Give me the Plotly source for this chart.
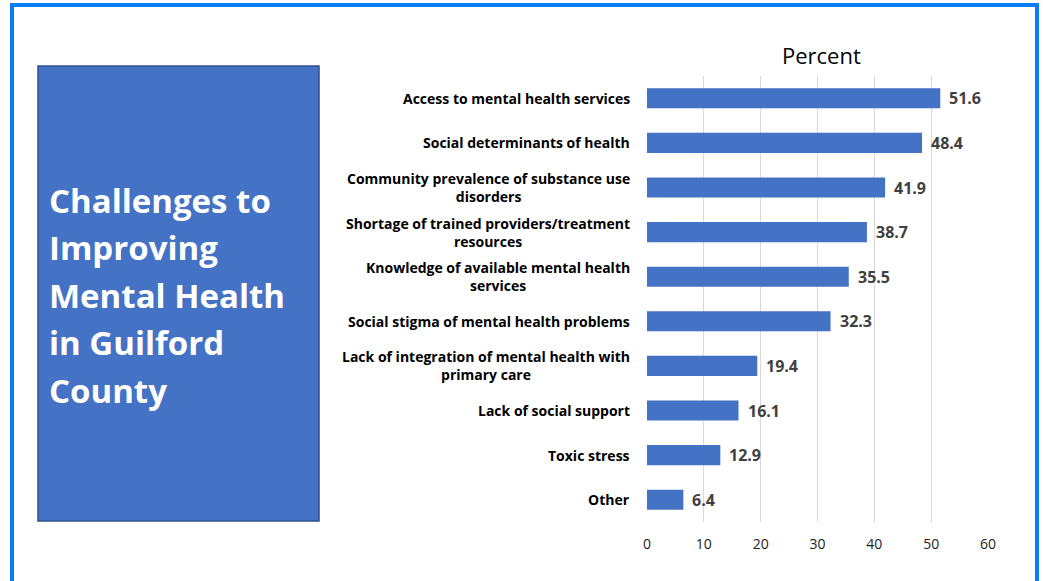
import plotly.graph_objects as go

# data
categories = [
    "Access to mental health services",
    "Social determinants of health",
    "Community prevalence of substance use<br>disorders",
    "Shortage of trained providers/treatment<br>resources",
    "Knowledge of available mental health<br>services",
    "Social stigma of mental health problems",
    "Lack of integration of mental health with<br>primary care",
    "Lack of social support",
    "Toxic stress",
    "Other",
]
percent = [51.6, 48.4, 41.9, 38.7, 35.5, 32.3, 19.4, 16.1, 12.9, 6.4]
x_ticks = [0, 10, 20, 30, 40, 50, 60]
title_lines = ["Challenges to", "Improving", "Mental Health", "in Guilford", "County"]

W, H = 1044, 581
L, R, T, B = 647, 56, 76, 59
pw, ph = W - L - R, H - T - B
FONT = "Open Sans"


def px(x):
    # pixel x -> paper x
    return (x - L) / pw


def py(y):
    # pixel y (from top) -> paper y
    return (H - B - y) / ph


fig = go.Figure(go.Bar(
    x=percent, y=categories, orientation="h",
    marker=dict(color="#4472C4", line=dict(width=0)),
    hoverinfo="skip",
))

# value labels just right of each bar
for c, v in zip(categories, percent):
    fig.add_annotation(x=v, y=c, xref="x", yref="y", text=f"{v:.1f}",
                       xanchor="left", xshift=7, showarrow=False,
                       font=dict(family=FONT, size=16, color="#404040", weight="bold"))

# category labels, centred lines, right edge next to the axis
for c in categories:
    fig.add_annotation(x=px(632), y=c, xref="paper", yref="y", text=c,
                       xanchor="right", align="center", showarrow=False,
                       font=dict(family=FONT, size=14, color="#000000", weight="bold"))

fig.add_annotation(x=px(821), y=py(55), xref="paper", yref="paper", text="Percent",
                   xanchor="center", yanchor="middle", showarrow=False,
                   font=dict(family=FONT, size=22, color="#000000"))

# left title box
fig.add_shape(type="rect", xref="paper", yref="paper",
              x0=px(38), x1=px(319), y0=py(521), y1=py(66),
              fillcolor="#4472C4", line=dict(color="#2F528F", width=1.5), layer="below")
for i, ln in enumerate(title_lines):
    fig.add_annotation(x=px(47), y=py(200 + i * 47.5), xref="paper", yref="paper",
                       text=ln, xanchor="left", yanchor="middle", showarrow=False,
                       font=dict(family=FONT, size=33, color="#FFFFFF", weight="bold"))

# outer frame
fig.add_shape(type="rect", xref="paper", yref="paper",
              x0=px(12), x1=px(1037), y0=py(600), y1=py(5),
              line=dict(color="#0A7CF5", width=4), layer="above")

fig.update_layout(
    width=W, height=H, margin=dict(l=L, r=R, t=T, b=B),
    paper_bgcolor="white", plot_bgcolor="white",
    bargap=0.55, showlegend=False,
    xaxis=dict(range=[0, 60], tickvals=x_ticks, showgrid=True, gridcolor="#D9D9D9",
               gridwidth=1, zeroline=False, showline=False, ticks="",
               ticklabelstandoff=12,
               tickfont=dict(family=FONT, size=14, color="#222222"), fixedrange=True),
    yaxis=dict(autorange="reversed", showticklabels=False, showgrid=False,
               zeroline=False, showline=False, ticks=""),
)

# drop the default page margin so the figure fills the window
fig.write_html("out.html", config={"displayModeBar": False},
               post_script="document.body.style.margin='0';")
